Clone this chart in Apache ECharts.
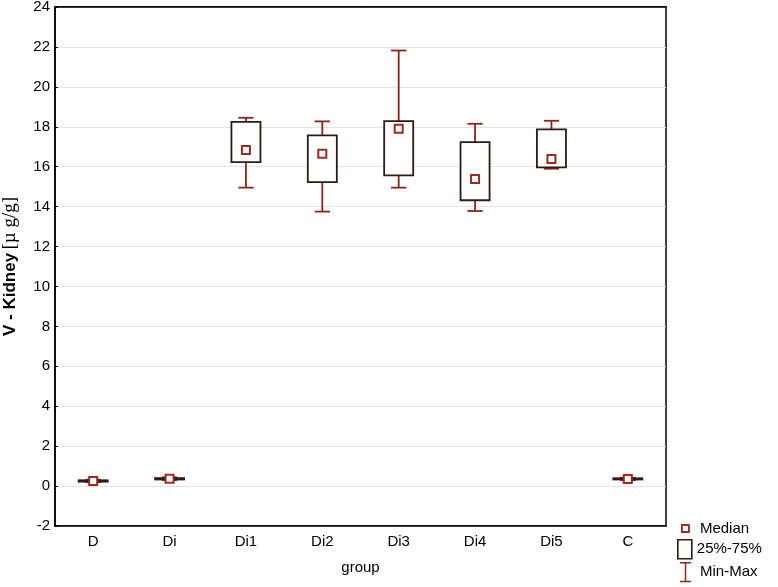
<!DOCTYPE html>
<html>
<head>
<meta charset="utf-8">
<script src="https://cdn.jsdelivr.net/npm/echarts@6/dist/echarts.min.js"></script>
<style>
  html, body { margin: 0; padding: 0; background: #fff; }
  #chart { width: 778px; height: 587px; }
</style>
</head>
<body>
<div id="chart"></div>
<script>
// values
var categories = ['D', 'Di', 'Di1', 'Di2', 'Di3', 'Di4', 'Di5', 'C'];
var minVals    = [0.20, 0.30, 14.95, 13.75, 14.95, 13.78, 15.90, 0.30];
var q1Vals     = [0.22, 0.33, 16.23, 15.23, 15.57, 14.32, 15.97, 0.33];
var medianVals = [0.26, 0.37, 16.83, 16.65, 17.90, 15.38, 16.38, 0.36];
var q3Vals     = [0.29, 0.40, 18.25, 17.57, 18.28, 17.23, 17.87, 0.39];
var maxVals    = [0.32, 0.44, 18.45, 18.27, 21.82, 18.15, 18.30, 0.42];

var whiskerColor = '#8c2519';
var boxColor = '#2e1a16';
var medianColor = '#9b2a1f';
var font = "'Liberation Sans', Arial, sans-serif";

var whiskerData = categories.map(function (c, i) { return [i, minVals[i], maxVals[i]]; });
var boxData = categories.map(function (c, i) { return [i, q1Vals[i], q3Vals[i]]; });
var medianData = categories.map(function (c, i) { return [i, medianVals[i]]; });

function renderWhisker(params, api) {
    var x = api.value(0);
    var lo = api.coord([x, api.value(1)]);
    var hi = api.coord([x, api.value(2)]);
    var half = api.size([1, 0])[0] * 0.1;
    var st = { stroke: whiskerColor, lineWidth: 1.8 };
    return {
        type: 'group',
        children: [
            { type: 'line', shape: { x1: lo[0], y1: lo[1], x2: hi[0], y2: hi[1] }, style: st },
            { type: 'line', shape: { x1: hi[0] - half, y1: hi[1], x2: hi[0] + half, y2: hi[1] }, style: st },
            { type: 'line', shape: { x1: lo[0] - half, y1: lo[1], x2: lo[0] + half, y2: lo[1] }, style: st }
        ]
    };
}

function renderBox(params, api) {
    var x = api.value(0);
    var lo = api.coord([x, api.value(1)]);
    var hi = api.coord([x, api.value(2)]);
    var w = api.size([1, 0])[0] * 0.38;
    return {
        type: 'rect',
        shape: { x: lo[0] - w / 2, y: hi[1], width: w, height: lo[1] - hi[1] },
        style: { fill: '#fff', stroke: boxColor, lineWidth: 1.8 }
    };
}

function legendText(padLeft) {
    return { color: '#000', fontSize: 15, fontFamily: font, padding: [0, 0, 0, padLeft] };
}

var option = {
    backgroundColor: '#fff',
    animation: false,
    grid: {
        left: 55, right: 112, top: 7, bottom: 61,
        outerBoundsMode: 'none',
        containLabel: false,
        show: true, borderColor: '#000', borderWidth: 1.5
    },
    legend: [
        {
            left: 681, top: 521, padding: 0, selectedMode: false,
            itemWidth: 7, itemHeight: 7, itemGap: 0,
            textStyle: legendText(6),
            data: [{ name: 'Median', icon: 'rect',
                itemStyle: { color: '#fff', borderColor: medianColor, borderWidth: 1.8 } }]
        },
        {
            left: 677, top: 539, padding: 0, selectedMode: false,
            itemWidth: 14, itemHeight: 19, itemGap: 0,
            textStyle: legendText(0),
            data: [{ name: '25%-75%', icon: 'rect',
                itemStyle: { color: '#fffdf8', borderColor: boxColor, borderWidth: 1.6 } }]
        },
        {
            left: 680, top: 562, padding: 0, selectedMode: false,
            itemWidth: 11, itemHeight: 22, itemGap: 0,
            textStyle: legendText(4),
            data: [{ name: 'Min-Max',
                icon: 'path://M0,0H12V1.6H6.8V20.4H12V22H0V20.4H5.2V1.6H0Z',
                itemStyle: { color: whiskerColor, borderWidth: 0 } }]
        }
    ],
    xAxis: [
        {
            type: 'category',
            data: categories,
            name: 'group',
            nameLocation: 'middle',
            nameGap: 34,
            nameTextStyle: { color: '#000', fontSize: 15, fontFamily: font },
            axisLine: { onZero: false, lineStyle: { color: '#000', width: 1.5 } },
            axisTick: { inside: true, alignWithLabel: true, length: 5, lineStyle: { color: '#000' } },
            axisLabel: { color: '#000', fontSize: 15, fontFamily: font, margin: 8 },
            splitLine: { show: false }
        },
        {
            type: 'category',
            data: categories,
            position: 'top',
            axisLine: { onZero: false, lineStyle: { color: '#000', width: 1.5 } },
            axisTick: { inside: true, alignWithLabel: true, length: 5, lineStyle: { color: '#000' } },
            axisLabel: { show: false },
            splitLine: { show: false }
        }
    ],
    yAxis: {
        type: 'value',
        min: -2,
        max: 24,
        interval: 2,
        name: '{b|V - Kidney} {s|[\u00b5 g/g]}',
        nameLocation: 'middle',
        nameGap: 35,
        nameTextStyle: {
            color: '#000',
            rich: {
                b: { fontSize: 17, fontWeight: 'bold', fontFamily: font, color: '#000' },
                s: { fontSize: 19, fontFamily: "'Liberation Serif', 'DejaVu Serif', serif", color: '#000' }
            }
        },
        axisLine: { show: true, onZero: false, lineStyle: { color: '#000', width: 1.5 } },
        axisTick: { show: true, inside: true, length: 3, lineStyle: { color: '#000' } },
        axisLabel: { color: '#000', fontSize: 15, fontFamily: font, margin: 5 },
        splitLine: { show: true, lineStyle: { color: '#e3e3e3', width: 1 } }
    },
    series: [
        {
            name: 'Min-Max',
            type: 'custom',
            renderItem: renderWhisker,
            encode: { x: 0, y: [1, 2] },
            itemStyle: { color: whiskerColor },
            data: whiskerData,
            z: 2
        },
        {
            name: '25%-75%',
            type: 'custom',
            renderItem: renderBox,
            encode: { x: 0, y: [1, 2] },
            itemStyle: { color: boxColor },
            data: boxData,
            z: 3
        },
        {
            name: 'Median',
            type: 'scatter',
            symbol: 'rect',
            symbolSize: 8,
            itemStyle: { color: '#fff', borderColor: medianColor, borderWidth: 2, opacity: 1 },
            data: medianData,
            z: 4
        }
    ]
};

echarts.init(document.getElementById('chart')).setOption(option);
</script>
</body>
</html>
